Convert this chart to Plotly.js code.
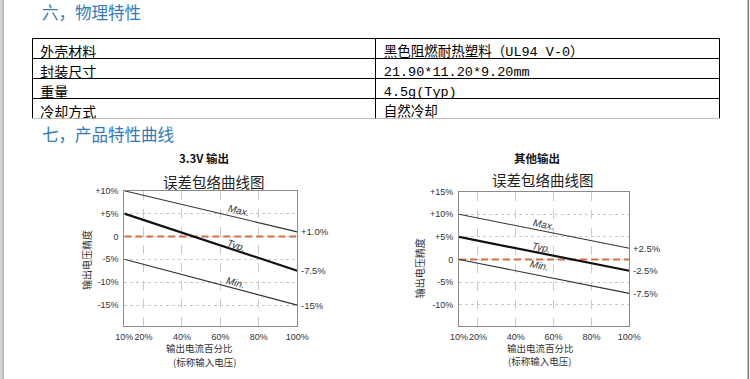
<!DOCTYPE html>
<html><head><meta charset="utf-8">
<script src="https://cdn.plot.ly/plotly-3.0.1.min.js"></script>
<style>html,body{margin:0;padding:0;background:#fff;}#chart{width:750px;height:379px;}</style>
</head><body><div id="chart"></div>
<script>
// ---- table data ----
const tableLabels = ['外壳材料', '封装尺寸', '重量', '冷却方式'];
const tableValues = ['黑色阻燃耐热塑料（UL94 V-0）', '21.90*11.20*9.20mm', '4.5g(Typ)', '自然冷却'];

// ---- chart data ----
const loadPct = [10, 100];
const xTickVals = [10, 20, 40, 60, 80, 100];
const xTickText = ['10%', '20%', '40%', '60%', '80%', '100%'];

// chart 1: 3.3V output
const c1Max = [10, 1];
const c1Typ = [5, -7.5];
const c1Min = [-5, -15];
const c1Zero = [0, 0];
const c1EndLabels = ['+1.0%', '-7.5%', '-15%'];
const c1YTickVals = [10, 5, 0, -5, -10, -15];
const c1YTickText = ['+10%', '+5%', '0', '-5%', '-10%', '-15%'];

// chart 2: other outputs
const c2Max = [10, 2.5];
const c2Typ = [5, -2.5];
const c2Min = [0, -7.5];
const c2Zero = [0, 0];
const c2EndLabels = ['+2.5%', '-2.5%', '-7.5%'];
const c2YTickVals = [15, 10, 5, 0, -5, -10];
const c2YTickText = ['+15%', '+10%', '+5%', '0', '-5%', '-10%'];

const lineNames = ['Max.', 'Typ.', 'Min.'];

const W = 750, H = 379;
const px = v => v / W;
const py = v => 1 - v / H;

const blue = '#3479b8';
const cjk = 'Noto Sans CJK SC, sans-serif';
const mono = 'Liberation Mono, Noto Sans CJK SC, monospace';
const tickFont = {family: 'Liberation Sans, Arial, sans-serif', size: 9, color: '#333'};

// axis geometry (pixels)
const ax1 = {x0: 124.3, x1: 297.3, yTop: 190.7, yBot: 325.7, r: [-19.5, 10]};
const ax2 = {x0: 459, x1: 629.3, yTop: 191.7, yBot: 325.7, r: [-14.65, 15]};

function lineTrace(xa, ya, y, width, color, dash) {
  return {type: 'scatter', mode: 'lines', x: loadPct, y: y, xaxis: xa, yaxis: ya,
    line: {color: color, width: width, dash: dash || 'solid'}, hoverinfo: 'skip', showlegend: false};
}

const tblFont = {family: [cjk, mono], size: [14, 13.5], color: '#000'};
const traces = [
  {type: 'table', domain: {x: [px(32.3), px(719.3)], y: [py(119), py(38.3)]},
   columnwidth: [1, 1],
   header: {values: [[tableLabels[0]], [tableValues[0]]], height: 20, align: 'left',
     fill: {color: '#fff'}, line: {color: '#000', width: 1}, font: tblFont},
   cells: {values: [tableLabels.slice(1), tableValues.slice(1)], height: 20, align: 'left',
     fill: {color: '#fff'}, line: {color: '#000', width: 1}, font: tblFont}},
  lineTrace('x', 'y', c1Zero, 2, '#cf7048', '7px,4px'),
  lineTrace('x', 'y', c1Max, 1.1, '#333'),
  lineTrace('x', 'y', c1Typ, 2.2, '#111'),
  lineTrace('x', 'y', c1Min, 1.1, '#333'),
  lineTrace('x2', 'y2', c2Zero, 2, '#cf7048', '7px,4px'),
  lineTrace('x2', 'y2', c2Max, 1.1, '#333'),
  lineTrace('x2', 'y2', c2Typ, 2.2, '#111'),
  lineTrace('x2', 'y2', c2Min, 1.1, '#333')
];

function xAxis(ax, anchor) {
  return {domain: [px(ax.x0), px(ax.x1)], range: [10, 100], anchor: anchor,
    tickvals: xTickVals, ticktext: xTickText, tickfont: tickFont, ticks: '', tickangle: 0,
    ticklabelstandoff: 2,
    showgrid: true, gridcolor: '#c9c9c9', griddash: 'dash', gridwidth: 1,
    showline: true, mirror: true, linecolor: '#8a8a8a', linewidth: 1, zeroline: false, fixedrange: true};
}
function yAxis(ax, anchor, tv, tt) {
  return {domain: [py(ax.yBot), py(ax.yTop)], range: ax.r, anchor: anchor,
    tickvals: tv, ticktext: tt, tickfont: tickFont, ticks: '', ticklabelstandoff: 3,
    showgrid: true, gridcolor: '#c9c9c9', griddash: 'dot', gridwidth: 1,
    showline: true, mirror: true, linecolor: '#8a8a8a', linewidth: 1, zeroline: false, fixedrange: true};
}

const annotations = [];
function ann(text, x, y, opts) {
  annotations.push(Object.assign({text: text, x: x, y: y, xref: 'paper', yref: 'paper',
    showarrow: false, xanchor: 'center', yanchor: 'middle',
    font: {family: cjk, size: 12, color: '#222'}}, opts || {}));
}

// section headings
ann('六，物理特性', px(40), py(11.5), {xanchor: 'left', font: {family: cjk, size: 16.5, color: blue}});
ann('七，产品特性曲线', px(40), py(134), {xanchor: 'left', font: {family: cjk, size: 16.5, color: blue}});

// chart titles
ann('<b>3.3V 输出</b>', px(203.7), py(158.3), {font: {family: cjk, size: 11.5, color: '#111'}});
ann('误差包络曲线图', px(214), py(181.5), {font: {family: cjk, size: 14.5, color: '#222'}});
ann('<b>其他输出</b>', px(536.8), py(158.3), {font: {family: cjk, size: 11.5, color: '#111'}});
ann('误差包络曲线图', px(543.3), py(179.3), {font: {family: cjk, size: 14.5, color: '#222'}});

// axis titles
const axFont = {family: cjk, size: 9.5, color: '#333'};
ann('输出电压精度', px(86), py(260), {textangle: -90, font: {family: cjk, size: 10, color: '#333'}});
ann('输出电压精度', px(419.3), py(268), {textangle: -90, font: {family: cjk, size: 10, color: '#333'}});
ann('输出电流百分比', px(199.3), py(347.8), {font: axFont});
ann('(标称输入电压)', px(204), py(361.6), {font: axFont});
ann('输出电流百分比', px(540), py(347.5), {font: axFont});
ann('(标称输入电压)', px(539), py(361.3), {font: axFont});

// line labels and end labels
function lineLabels(ax, xa, ya, series, endLabels, labelX, shifts) {
  const pxPerX = (ax.x1 - ax.x0) / 90;
  const pxPerY = (ax.yBot - ax.yTop) / (ax.r[1] - ax.r[0]);
  series.forEach((s, i) => {
    const slope = (s[1] - s[0]) / (loadPct[1] - loadPct[0]);
    const yAt = s[0] + slope * (labelX[i] - loadPct[0]);
    const ang = Math.atan(-slope * pxPerY / pxPerX) * 180 / Math.PI;
    annotations.push({text: '<i>' + lineNames[i] + '</i>', x: labelX[i], y: yAt, xref: xa, yref: ya,
      showarrow: false, textangle: ang, yshift: shifts[i],
      font: {family: 'Liberation Sans, Arial, sans-serif', size: 10, color: '#333'}});
    annotations.push({text: endLabels[i], x: loadPct[1], y: s[1], xref: xa, yref: ya,
      showarrow: false, xanchor: 'left', xshift: 2,
      font: {family: 'Liberation Sans, Arial, sans-serif', size: 9.5, color: '#333'}});
  });
}
lineLabels(ax1, 'x', 'y', [c1Max, c1Typ, c1Min], c1EndLabels, [69.7, 68.5, 67.7], [7.5, 5.5, 6]);
lineLabels(ax2, 'x2', 'y2', [c2Max, c2Typ, c2Min], c2EndLabels, [54.9, 53.7, 52.7], [6.5, 6, 10]);

const shapes = [
  {type: 'rect', xref: 'paper', yref: 'paper', x0: 0, x1: px(3), y0: 0, y1: 1,
   fillcolor: '#d4d4d4', line: {width: 0}},
  {type: 'line', xref: 'paper', yref: 'paper', x0: px(3.2), x1: px(3.2), y0: 0, y1: 1,
   line: {color: '#9a9a9a', width: 1}},
  {type: 'line', xref: 'paper', yref: 'paper', x0: px(748.3), x1: px(748.3), y0: 0, y1: 1,
   line: {color: '#7a7a7a', width: 1.5}}
];

const layout = {
  width: W, height: H, margin: {l: 0, r: 0, t: 0, b: 0},
  paper_bgcolor: '#fff', plot_bgcolor: '#fff', showlegend: false,
  xaxis: xAxis(ax1, 'y'), yaxis: yAxis(ax1, 'x', c1YTickVals, c1YTickText),
  xaxis2: xAxis(ax2, 'y2'), yaxis2: yAxis(ax2, 'x2', c2YTickVals, c2YTickText),
  annotations: annotations, shapes: shapes
};

Plotly.newPlot('chart', traces, layout, {displayModeBar: false, staticPlot: true});
</script></body></html>
